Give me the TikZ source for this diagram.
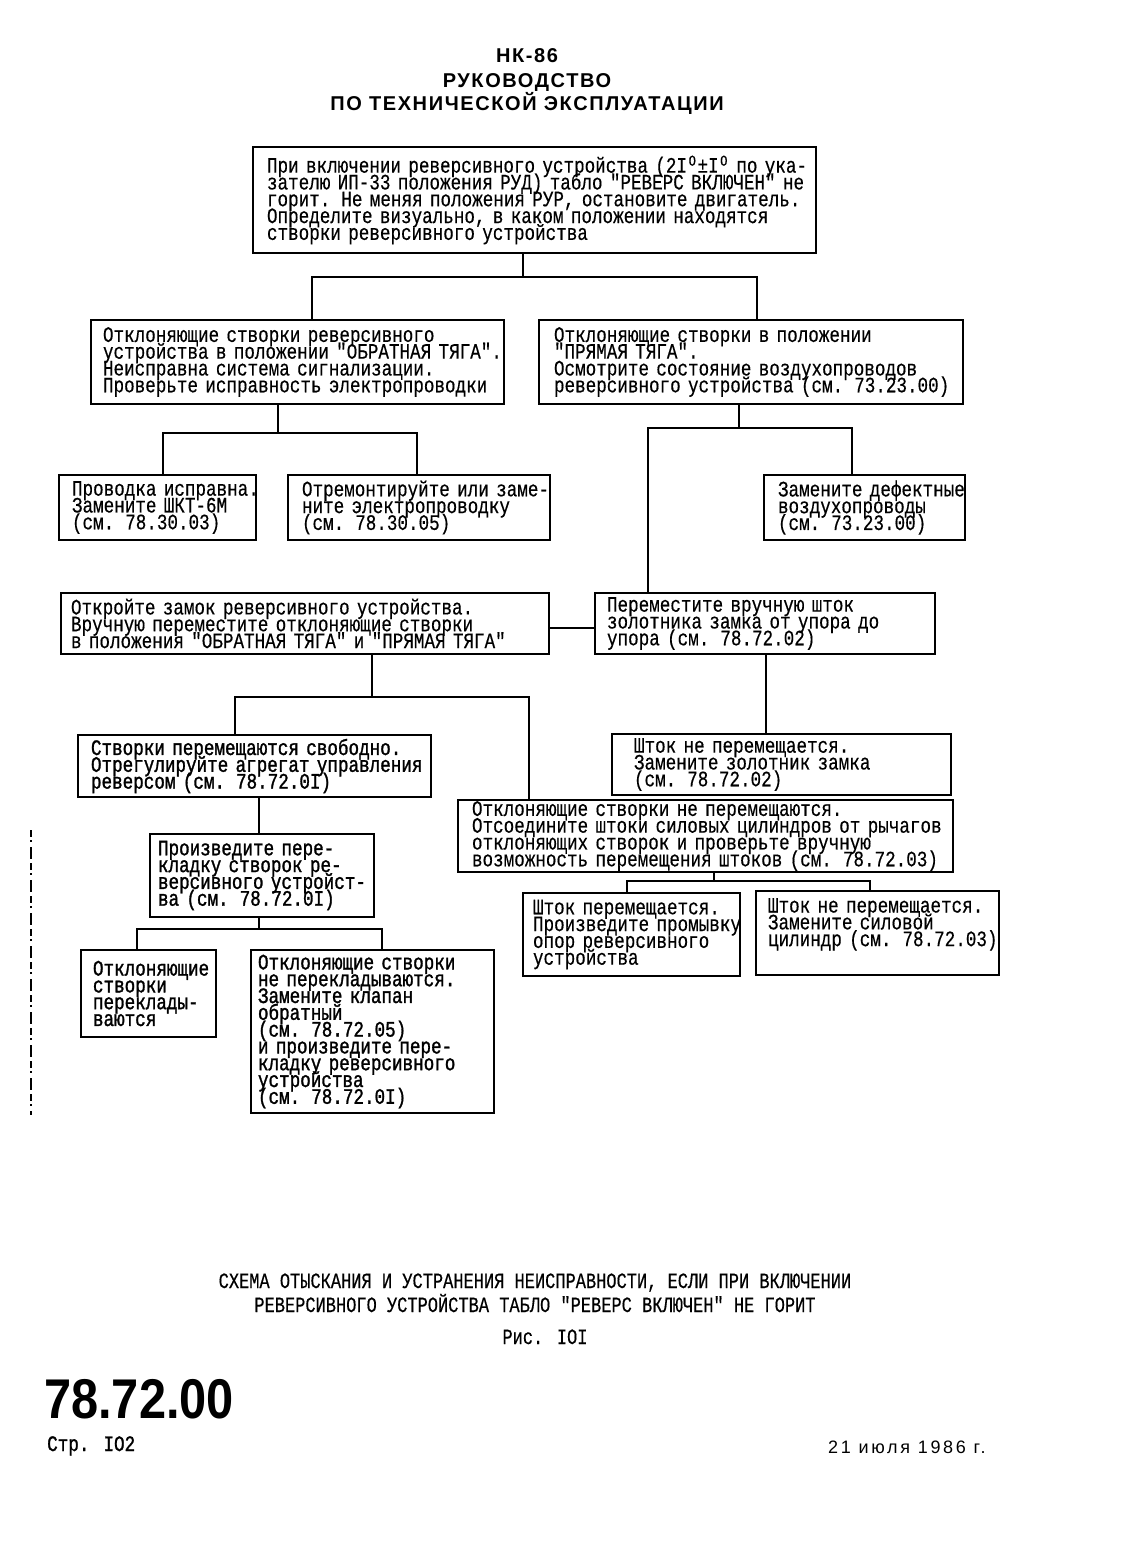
\documentclass[tikz,border=0pt]{standalone}
\usepackage{fontspec}
\newfontfamily\tw[FakeStretch=0.8,FakeBold=0.4]{Liberation Mono}
\newfontfamily\twb[FakeStretch=0.8,FakeBold=1.3]{Liberation Mono}
\newfontfamily\twc[FakeStretch=0.78,FakeBold=0.4]{Liberation Mono}
\newfontfamily\hdr[LetterSpace=8]{Liberation Sans}
\newfontfamily\bignum[FakeStretch=0.87]{Liberation Sans}
\newfontfamily\datef[LetterSpace=15]{Liberation Sans}
\newcommand\ind[1]{\leftskip=#1pt\relax\rightskip=-30pt plus 1fil\relax\parindent=0pt\relax\lineskiplimit=-50pt\relax\lineskip=0pt\relax}
\newcommand\sdeg{\makebox[10.4pt]{\raisebox{7pt}{\fontsize{15}{15}\selectfont O}}}
\tikzset{
  bx/.style={draw, line width=2pt, anchor=north west, inner xsep=0pt, inner ysep=1pt,
    font=\tw\fontsize{22}{16.8}\selectfont},
  bxb/.style={bx, font=\twb\fontsize{22}{16.8}\selectfont},
  ln/.style={line width=2pt},
  captext/.style={font=\twc\fontsize{21.8}{16.8}\selectfont, anchor=base, inner sep=0pt},
}
\begin{document}
\begin{tikzpicture}[x=1pt,y=-1pt]
\fill[white] (0,0) rectangle (1131,1553);
\useasboundingbox (0,0) rectangle (1131,1553);

% header
\node[font=\hdr\bfseries\fontsize{20}{20}\selectfont, anchor=base, inner sep=0pt] (h1) at (527,62) {НК-86};
\node[font=\hdr\bfseries\fontsize{20}{20}\selectfont, anchor=base, inner sep=0pt] (h2) at (527,87) {РУКОВОДСТВО};
\node[font=\hdr\bfseries\fontsize{20}{20}\selectfont, anchor=base, inner sep=0pt] (h3) at (527,110) {ПО ТЕХНИЧЕСКОЙ ЭКСПЛУАТАЦИИ};

% boxes
\node[bx, text width=563pt, minimum height=106pt] (top) at (252,146) {\ind{14}При включении реверсивного устройства (2I\sdeg±I\sdeg{} по ука-\\зателю ИП-33 положения РУД) табло "РЕВЕРС ВКЛЮЧЕН" не\\горит. Не меняя положения РУР, остановите двигатель.\\Определите визуально, в каком положении находятся\\створки реверсивного устройства\par};

\node[bx, text width=413pt, minimum height=84pt] (L1) at (90,319) {\ind{12}Отклоняющие створки реверсивного\\устройства в положении "ОБРАТНАЯ ТЯГА".\\Неисправна система сигнализации.\\Проверьте исправность электропроводки\par};

\node[bx, text width=424pt, minimum height=84pt] (R1) at (538,319) {\ind{15}Отклоняющие створки в положении\\"ПРЯМАЯ ТЯГА".\\Осмотрите состояние воздухопроводов\\реверсивного устройства (см. 73.23.00)\par};

\node[bx, text width=197pt, minimum height=65pt] (L2a) at (58,474) {\ind{13}Проводка исправна.\\Замените ШКТ-6М\\(см. 78.30.03)\par};
\node[bx, text width=262pt, minimum height=65pt] (L2b) at (287,474) {\ind{14}Отремонтируйте или заме-\\ните электропроводку\\(см. 78.30.05)\par};
\node[bx, text width=201pt, minimum height=65pt] (zam) at (763,474) {\ind{14}Замените дефектные\\воздухопроводы\\(см. 73.23.00)\par};

\node[bx, text width=488pt, minimum height=61pt] (otk) at (60,592) {\ind{10}Откройте замок реверсивного устройства.\\Вручную переместите отклоняющие створки\\в положения "ОБРАТНАЯ ТЯГА" и "ПРЯМАЯ ТЯГА"\par};
\node[bx, text width=340pt, minimum height=61pt] (per) at (594,592) {\ind{12}Переместите вручную шток\\золотника замка от упора до\\упора (см. 78.72.02)\par};

\node[bxb, text width=353pt, minimum height=62pt] (stv) at (77,734) {\ind{13}Створки перемещаются свободно.\\Отрегулируйте агрегат управления\\реверсом (см. 78.72.0I)\par};
\node[bx, text width=339pt, minimum height=61pt] (shz) at (611,733) {\ind{22}Шток не перемещается.\\Замените золотник замка\\(см. 78.72.02)\par};

\node[bx, text width=495pt, minimum height=72pt] (otkne) at (457,799) {\ind{14}Отклоняющие створки не перемещаются.\\Отсоедините штоки силовых цилиндров от рычагов\\отклоняющих створок и проверьте вручную\\возможность перемещения штоков (см. 78.72.03)\par};

\node[bxb, text width=224pt, minimum height=83pt] (proiz) at (149,833) {\ind{8}Произведите пере-\\кладку створок ре-\\версивного устройст-\\ва (см. 78.72.0I)\par};

\node[bxb, text width=135pt, minimum height=87pt] (perekl) at (80,949) {\ind{12}Отклоняющие\\створки\\переклады-\\ваются\par};
\node[bxb, text width=243pt, minimum height=163pt] (big) at (250,949) {\ind{7}Отклоняющие створки\\не перекладываются.\\Замените клапан\\обратный\\(см. 78.72.05)\\и произведите пере-\\кладку реверсивного\\устройства\\(см. 78.72.0I)\par};

\node[bx, text width=217pt, minimum height=83pt] (shp) at (522,892) {\ind{10}Шток перемещается.\\Произведите промывку\\опор реверсивного\\устройства\par};
\node[bx, text width=243pt, minimum height=84pt] (shn) at (755,890) {\ind{12}Шток не перемещается.\\Замените силовой\\цилиндр (см. 78.72.03)\\\strut\par};

% connectors
\coordinate (j1) at (523,277); \coordinate (j1a) at (312,277); \coordinate (j1b) at (757,277);
\draw[ln] (top.south -| j1) -- (j1);
\draw[ln] (L1.north -| j1a) |- (j1b) -- (R1.north -| j1b);

\coordinate (j2) at (278,433); \coordinate (j2a) at (163,433); \coordinate (j2b) at (417,433);
\draw[ln] (L1.south -| j2) -- (j2);
\draw[ln] (L2a.north -| j2a) |- (j2b) -- (L2b.north -| j2b);

\coordinate (j3) at (739,428); \coordinate (j3a) at (648,428); \coordinate (j3b) at (852,428);
\draw[ln] (R1.south -| j3) -- (j3);
\draw[ln] (per.north -| j3a) |- (j3b) -- (zam.north -| j3b);

\coordinate (j4) at (570,628);
\draw[ln] (otk.east |- j4) -- (per.west |- j4);

\coordinate (j5) at (372,697); \coordinate (j5a) at (235,697); \coordinate (j5b) at (529,697);
\draw[ln] (otk.south -| j5) -- (j5);
\draw[ln] (stv.north -| j5a) |- (j5b) -- (otkne.north -| j5b);

\coordinate (j6) at (766,700);
\draw[ln] (per.south -| j6) -- (shz.north -| j6);

\coordinate (j7) at (259,815);
\draw[ln] (stv.south -| j7) -- (proiz.north -| j7);

\coordinate (j8) at (259,929); \coordinate (j8a) at (137,929); \coordinate (j8b) at (382,929);
\draw[ln] (proiz.south -| j8) -- (j8);
\draw[ln] (perekl.north -| j8a) |- (j8b) -- (big.north -| j8b);

\coordinate (j9) at (714,881); \coordinate (j9a) at (627,881); \coordinate (j9b) at (870,881);
\draw[ln] (otkne.south -| j9) -- (j9);
\draw[ln] (shp.north -| j9a) |- (j9b) -- (shn.north -| j9b);

% scan edge mark
\draw[line width=1.5pt, dash pattern=on 7pt off 3pt on 2pt off 5pt on 12pt off 4pt] (31,830) -- (31,1115);

% caption
\node[captext] (c1) at (535,1288) {СХЕМА ОТЫСКАНИЯ И УСТРАНЕНИЯ НЕИСПРАВНОСТИ, ЕСЛИ ПРИ ВКЛЮЧЕНИИ};
\node[captext] (c2) at (535,1312) {РЕВЕРСИВНОГО УСТРОЙСТВА ТАБЛО "РЕВЕРС ВКЛЮЧЕН" НЕ ГОРИТ};
\node[captext] (c3) at (545,1344) {Рис. IOI};

% footer
\node[font=\bignum\bfseries\fontsize{56}{56}\selectfont, anchor=base west, inner sep=0pt] (num) at (44,1418) {78.72.00};
\node[font=\twb\fontsize{22}{16.8}\selectfont, anchor=base west, inner sep=0pt] (pg) at (47,1451) {Стр. IO2};
\node[font=\datef\fontsize{18}{18}\selectfont, anchor=base west, inner sep=0pt] (dt) at (828,1453) {21 июля 1986 г.};
\end{tikzpicture}
\end{document}
